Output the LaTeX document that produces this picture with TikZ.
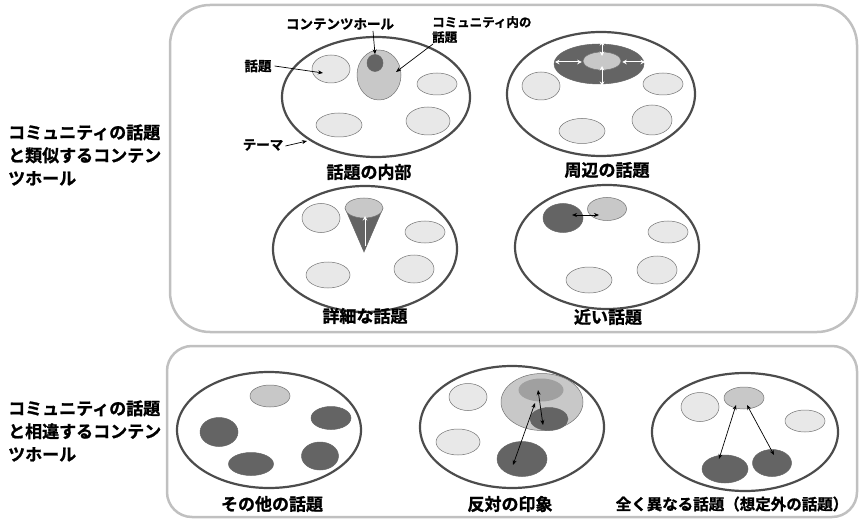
\documentclass[tikz,border=0pt]{standalone}
\usepackage{fontspec}
\setmainfont{Noto Sans CJK JP}[BoldFont={Noto Sans CJK JP Bold}, BoldFeatures={FakeBold=1.2}]
\usetikzlibrary{arrows.meta,shapes.geometric}
\definecolor{lightf}{HTML}{E8E8E8}
\definecolor{midf}{HTML}{C8C8C8}
\definecolor{medf}{HTML}{A0A0A0}
\definecolor{darkf}{HTML}{646464}
\definecolor{panelc}{HTML}{C0C0C0}
\tikzset{
  panel/.style={draw=panelc, line width=2.5pt},
  theme/.style={draw=black!70, line width=2.2pt, fill=white},
  lt/.style={draw=black!55, line width=0.5pt, fill=lightf},
  md/.style={draw=black!55, line width=0.5pt, fill=midf},
  dk/.style={draw=black!60, line width=0.5pt, fill=darkf},
  lbl/.style={font=\bfseries\fontsize{17}{18}\selectfont, inner sep=0pt},
  sml/.style={font=\bfseries\fontsize{13.5}{15}\selectfont, inner sep=0pt},
  side/.style={font=\bfseries\fontsize{17}{23}\selectfont, inner sep=0pt, align=left, anchor=west},
  blk/.style={-{Stealth[length=5pt,width=4pt]}, line width=0.7pt},
  dbl/.style={{Stealth[length=5pt,width=4pt]}-{Stealth[length=5pt,width=4pt]}, line width=0.7pt},
  wdbl/.style={{Stealth[length=4.5pt,width=4.5pt]}-{Stealth[length=4.5pt,width=4.5pt]}, line width=1pt, white},
}
\begin{document}
\begin{tikzpicture}[x=1pt,y=-1pt]
\useasboundingbox (0,0) rectangle (861,521);
% panels
\draw[panel, rounded corners=40pt] (170,5) rectangle (857,332);
\draw[panel, rounded corners=25pt] (167,346) rectangle (857,517);
% side labels
\node[side] (s1) at (8,155) {コミュニティの話題\\と類似するコンテン\\ツホール};
\node[side] (s2) at (8,431) {コミュニティの話題\\と相違するコンテン\\ツホール};

% ---- panel 1: 話題の内部
\draw[theme] (376,97) ellipse [x radius=94, y radius=60];
\node[lt, ellipse, minimum width=38, minimum height=28, inner sep=0] (p1a) at (331,69) {};
\node[md, ellipse, minimum width=44, minimum height=50, inner sep=0] (p1c) at (379,75) {};
\node[dk, ellipse, minimum width=16, minimum height=17, inner sep=0] (p1h) at (375,63) {};
\node[lt, ellipse, minimum width=40, minimum height=22, inner sep=0] (p1b) at (437,84) {};
\node[lt, ellipse, minimum width=46, minimum height=24, inner sep=0] (p1d) at (339,125) {};
\node[lt, ellipse, minimum width=44, minimum height=28, inner sep=0] (p1e) at (428,121) {};
\node[lbl] (t1) at (369,172) {話題の内部};
\node[sml] (l1) at (258,66) {話題};
\node[sml] (l2) at (263,145) {テーマ};
\node[sml] (l3) at (340,24) {コンテンツホール};
\node[sml, font=\bfseries\fontsize{12.5}{15}\selectfont, align=left, anchor=north west] (l4) at (432,16) {コミュニティ内の\\話題};
\coordinate (e1) at (323,73);
\coordinate (e2) at (307,141);
\coordinate (e3) at (396,72);
\draw[blk] (l1.east) ++(3,0) -- (e1);
\draw[blk] (l2.east) ++(2,1) -- (e2);
\draw[blk] (373,31) -- (p1h.north);
\draw[blk] (433,44) -- (e3);

% ---- panel 2: 周辺の話題
\draw[theme] (601,94) ellipse [x radius=94, y radius=62];
\node[dk, ellipse, minimum width=90, minimum height=40, inner sep=0] (p2r) at (599,64) {};
\node[md, ellipse, minimum width=38, minimum height=18, inner sep=0] (p2i) at (602,61) {};
\coordinate (w1) at (602,41);
\coordinate (w2) at (602,86);
\coordinate (w3) at (555,62);
\coordinate (w4) at (645,62);
\draw[wdbl] (602,56) -- (w1);
\draw[wdbl] (602,66) -- (w2);
\draw[wdbl] (p2i.west) ++(-1,1) -- (w3);
\draw[wdbl] (p2i.east) ++(1,1) -- (w4);
\node[lt, ellipse, minimum width=38, minimum height=28, inner sep=0] (p2a) at (541,86) {};
\node[lt, ellipse, minimum width=40, minimum height=22, inner sep=0] (p2b) at (663,84) {};
\node[lt, ellipse, minimum width=46, minimum height=25, inner sep=0] (p2d) at (582,131) {};
\node[lt, ellipse, minimum width=40, minimum height=30, inner sep=0] (p2e) at (652,120) {};
\node[lbl] (t2) at (607,170) {周辺の話題};

% ---- panel 3: 詳細な話題
\draw[theme] (365,249) ellipse [x radius=92, y radius=63];
\coordinate (apex) at (364,252);
\fill[darkf] (345,208) -- (apex) -- (383,208) -- cycle;
\draw[black!60, line width=0.5pt] (345,208) -- (apex) -- (383,208);
\node[md, ellipse, minimum width=38, minimum height=20, inner sep=0] (p3c) at (364,208) {};
\draw[white, line width=1pt, -{Stealth[length=4.5pt,width=4.5pt]}] (365,246) -- (365,216);
\node[lt, ellipse, minimum width=38, minimum height=29, inner sep=0] (p3a) at (321,218) {};
\node[lt, ellipse, minimum width=40, minimum height=22, inner sep=0] (p3b) at (425,232) {};
\node[lt, ellipse, minimum width=44, minimum height=26, inner sep=0] (p3d) at (328,275) {};
\node[lt, ellipse, minimum width=40, minimum height=28, inner sep=0] (p3e) at (414,269) {};
\node[lbl] (t3) at (365,316) {詳細な話題};

% ---- panel 4: 近い話題
\draw[theme] (607,247) ellipse [x radius=92, y radius=62];
\node[dk, ellipse, minimum width=40, minimum height=29, inner sep=0] (p4k) at (563,218) {};
\node[md, ellipse, minimum width=39, minimum height=23, inner sep=0] (p4m) at (607,209) {};
\coordinate (n1) at (572,215);
\coordinate (n2) at (599,215);
\draw[dbl] (n1) -- (n2);
\node[lt, ellipse, minimum width=40, minimum height=22, inner sep=0] (p4b) at (668,232) {};
\node[lt, ellipse, minimum width=40, minimum height=28, inner sep=0] (p4e) at (657,270) {};
\node[lt, ellipse, minimum width=46, minimum height=26, inner sep=0] (p4d) at (589,280) {};
\node[lbl] (t4) at (608,317) {近い話題};

% ---- panel 5: その他の話題
\draw[theme] (269,430) ellipse [x radius=92, y radius=58];
\node[md, ellipse, minimum width=40, minimum height=22, inner sep=0] (p5m) at (270,396) {};
\node[dk, ellipse, minimum width=38, minimum height=29, inner sep=0] (p5a) at (219,432) {};
\node[dk, ellipse, minimum width=40, minimum height=23, inner sep=0] (p5b) at (331,418) {};
\node[dk, ellipse, minimum width=45, minimum height=23, inner sep=0] (p5d) at (251,464) {};
\node[dk, ellipse, minimum width=37, minimum height=28, inner sep=0] (p5e) at (320,456) {};
\node[lbl] (t5) at (272,504) {その他の話題};

% ---- panel 6: 反対の印象
\draw[theme] (512,427) ellipse [x radius=92, y radius=61];
\node[lt, ellipse, minimum width=38, minimum height=27, inner sep=0] (p6a) at (468,397) {};
\node[lt, ellipse, minimum width=44, minimum height=26, inner sep=0] (p6b) at (458,442) {};
\node[md, ellipse, minimum width=82, minimum height=57, inner sep=0] (p6g) at (542,402) {};
\node[ellipse, fill=medf, minimum width=45, minimum height=23, inner sep=0] (p6i) at (541,390) {};
\node[dk, ellipse, minimum width=38, minimum height=23, inner sep=0] (p6s) at (549,419) {};
\node[dk, ellipse, minimum width=50, minimum height=35, inner sep=0] (p6d) at (522,459) {};
\coordinate (o1) at (538,390);
\coordinate (o2) at (543,425);
\coordinate (o3) at (535,403);
\coordinate (o4) at (513,465);
\draw[dbl] (o1) -- (o2);
\draw[dbl] (o3) -- (o4);
\node[lbl] (t6) at (510,504) {反対の印象};

% ---- panel 7: 全く異なる話題
\draw[theme] (745,432) ellipse [x radius=93, y radius=59];
\node[md, ellipse, minimum width=40, minimum height=22, inner sep=0] (p7m) at (744,398) {};
\node[lt, ellipse, minimum width=38, minimum height=29, inner sep=0] (p7a) at (700,407) {};
\node[lt, ellipse, minimum width=40, minimum height=22, inner sep=0] (p7b) at (805,421) {};
\node[dk, ellipse, minimum width=46, minimum height=28, inner sep=0] (p7d) at (725,469) {};
\node[dk, ellipse, minimum width=39, minimum height=27, inner sep=0] (p7e) at (772,463) {};
\coordinate (u1) at (736,405);
\coordinate (u2) at (719,459);
\coordinate (u3) at (747,405);
\coordinate (u4) at (774,455);
\draw[dbl] (u1) -- (u2);
\draw[dbl] (u3) -- (u4);
\node[lbl, font=\bfseries\fontsize{15.5}{16}\selectfont] (t7) at (732,504) {全く異なる話題（想定外の話題）};
\end{tikzpicture}
\end{document}
